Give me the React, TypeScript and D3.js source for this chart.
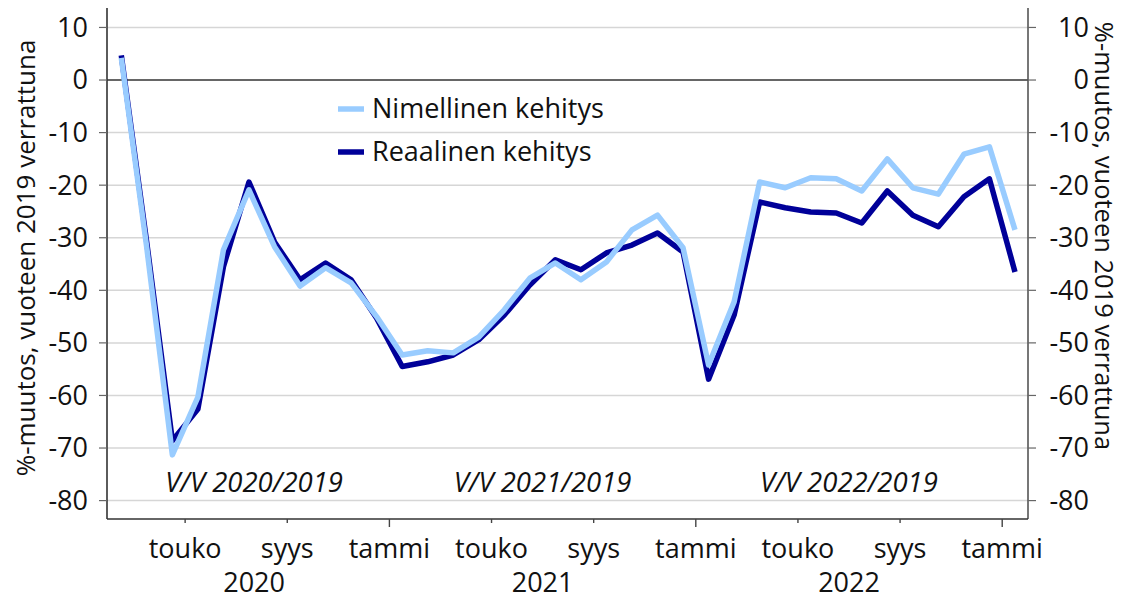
import { useEffect } from 'react'
import * as d3 from 'd3'

// kuukausittaiset arvot helmikuu 2020 - tammikuu 2023
const firstMonth = 1 // 0 = tammikuu 2020
const nimellinen = [4.2, -32, -71.3, -60.3, -32.3, -20.9, -31.7, -39.2, -35.7, -38.6, -45, -52.3, -51.5, -51.9, -48.9, -43.7, -37.7, -34.8, -38, -34.6, -28.5, -25.7, -31.9, -54.2, -42.2, -19.4, -20.5, -18.6, -18.8, -21.1, -15.0, -20.5, -21.7, -14.1, -12.7, -28.5]
const reaalinen = [4.7, -31, -68.6, -62.6, -35.5, -19.4, -30.8, -38, -34.8, -38, -45.3, -54.5, -53.6, -52.3, -49.4, -44.7, -39, -34.2, -36.1, -32.9, -31.4, -29.1, -32.7, -56.9, -44.7, -23.2, -24.3, -25.1, -25.3, -27.2, -21.1, -25.7, -27.9, -22.2, -18.8, -36.5]

const yTicks = [10, 0, -10, -20, -30, -40, -50, -60, -70, -80]
const xTickMonths = [4, 8, 12, 16, 20, 24, 28, 32, 36]
const monthNames = ['tammi', 'touko', 'syys']
const years = ['2020', '2021', '2022']
const yearCenters = [6.7, 18, 30]
const periodLabels = ['V/V 2020/2019', 'V/V 2021/2019', 'V/V 2022/2019']

const seriesNames = ['Nimellinen kehitys', 'Reaalinen kehitys']
const LIGHT = '#99ccff'
const DARK = '#000099'

const W = 1124
const H = 600
const left = 107
const right = 1028
const top = 8
const bottom = 519
const FONT = '"Open Sans", "Noto Sans", sans-serif'
const yTitle = '%-muutos, vuoteen 2019 verrattuna'

const fmt = (v: number) => String(v).replace('−', '-')

export default function App() {
  useEffect(() => {
    document.body.style.margin = '0'
  }, [])

  const x = d3.scaleLinear().domain([0.94, 37.01]).range([left, right])
  const y = d3.scaleLinear().domain([-83.5, 13.7]).range([bottom, top])

  const line = d3.line<number>()
    .x((_, i) => x(firstMonth + i + 0.5))
    .y(d => y(d))

  return (
    <svg width={W} height={H} style={{ display: 'block', fontFamily: FONT }}>
      <rect width={W} height={H} fill="#fff" />

      {/* gridlines */}
      {yTicks.map(t => (
        <line key={t} x1={left} x2={right} y1={y(t)} y2={y(t)}
          stroke={t === 0 ? '#333' : '#d6d6d6'} strokeWidth={t === 0 ? 1.6 : 1.5} />
      ))}

      {/* axes */}
      <line x1={left} x2={left} y1={top} y2={bottom} stroke="#333" strokeWidth={1.6} />
      <line x1={right} x2={right} y1={top} y2={bottom} stroke="#555" strokeWidth={1.6} />
      <line x1={left} x2={right} y1={bottom} y2={bottom} stroke="#333" strokeWidth={1.6} />

      {yTicks.map(t => (
        <g key={`yt-${t}`}>
          <line x1={left - 8} x2={left} y1={y(t)} y2={y(t)} stroke="#666" strokeWidth={1.2} />
          <line x1={right} x2={right + 8} y1={y(t)} y2={y(t)} stroke="#666" strokeWidth={1.2} />
          <text x={88} y={y(t)} dy="0.35em" textAnchor="end" fontSize={27} fill="#111">{fmt(t)}</text>
          <text x={1089} y={y(t)} dy="0.35em" textAnchor="end" fontSize={27} fill="#111">{fmt(t)}</text>
        </g>
      ))}

      {xTickMonths.map(m => {
        const jan = m % 12 === 0
        return (
          <g key={`xt-${m}`}>
            <line x1={x(m)} x2={x(m)} y1={bottom} y2={bottom + (jan ? 8 : 4)} stroke="#444" strokeWidth={1.4} />
            <text x={x(m)} y={558} textAnchor="middle" fontSize={27} fill="#111">
              {monthNames[(m % 12) / 4]}
            </text>
          </g>
        )
      })}

      {years.map((yr, i) => (
        <text key={yr} x={x(yearCenters[i])} y={592} textAnchor="middle" fontSize={27} fill="#111">{yr}</text>
      ))}

      {periodLabels.map((p, i) => (
        <text key={p} x={x(yearCenters[i])} y={492} textAnchor="middle" fontSize={27.5} fontStyle="italic" fill="#111">{p}</text>
      ))}

      {/* axis titles */}
      <text transform={`translate(26,258) rotate(-90)`} dy="0.35em" textAnchor="middle" fontSize={26} fill="#111">{yTitle}</text>
      <text transform={`translate(1104,236) rotate(90)`} dy="0.35em" textAnchor="middle" fontSize={25.5} fill="#111">{yTitle}</text>

      {/* series */}
      <path d={line(reaalinen) ?? ''} fill="none" stroke={DARK} strokeWidth={5.5} strokeLinejoin="round" />
      <path d={line(nimellinen) ?? ''} fill="none" stroke={LIGHT} strokeWidth={5.5} strokeLinejoin="round" />

      {/* legend */}
      {seriesNames.map((s, i) => (
        <g key={s} transform={`translate(338,${109 + i * 43})`}>
          <line x1={0} x2={26} y1={0} y2={0} stroke={i === 0 ? LIGHT : DARK} strokeWidth={5.5} />
          <text x={34} y={0} dy="0.35em" fontSize={27} fill="#111">{s}</text>
        </g>
      ))}
    </svg>
  )
}
